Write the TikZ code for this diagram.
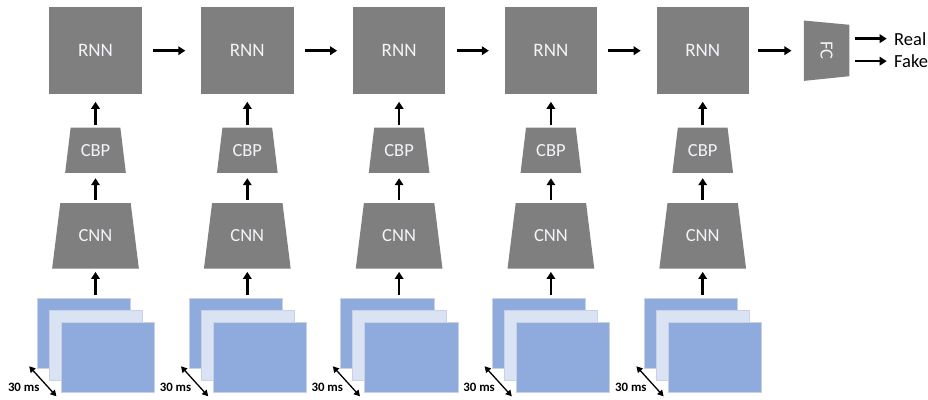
\documentclass[tikz,border=0pt]{standalone}
\usepackage{fontspec}
\setmainfont{Carlito}
\usetikzlibrary{arrows.meta,calc,backgrounds}
\definecolor{blockgrey}{HTML}{7F7F7F}
\definecolor{blocktext}{HTML}{F2F4F8}
\definecolor{framedark}{HTML}{8FAADC}
\definecolor{framelight}{HTML}{DAE3F3}
\definecolor{frameedge}{HTML}{C8D2E2}
\tikzset{
  arr/.style={line width=2.6pt,-{Triangle[length=7pt,width=8.5pt]}},
  tick/.style={line width=1.3pt,{Triangle[length=6pt,width=6.5pt]}-{Triangle[length=6pt,width=6.5pt]}},
  rnnbox/.style={rectangle,fill=blockgrey,draw=none,minimum width=92.4pt,minimum height=87pt,
    inner sep=0pt,text=blocktext,font=\fontsize{19}{22}\selectfont},
  trapbox/.style={rectangle,draw=none,inner sep=0pt,text=blocktext,font=\fontsize{18.5}{22}\selectfont},
  framebox/.style={rectangle,draw=frameedge,line width=0.8pt,minimum width=93.3pt,minimum height=70.3pt,
    inner sep=0pt,anchor=north west},
  msnote/.style={font=\bfseries\fontsize{12.8}{15}\selectfont,inner sep=0pt},
  outlabel/.style={font=\fontsize{18.5}{22}\selectfont,inner sep=0pt,anchor=base west}
}
\begin{document}
\begin{tikzpicture}[x=1pt,y=-1pt]
\useasboundingbox (0,0) rectangle (928,399);

\foreach \i in {0,...,4} {
  \pgfmathsetmacro\cx{95.5+151.8*\i}
  % recurrent block, bilinear pooling and convolutional stages
  \node[rnnbox] (rnn\i) at (\cx,50.7) {RNN};
  \node[trapbox,minimum width=60.3pt,minimum height=45pt] (cbp\i) at (\cx,150.2) {CBP};
  \node[trapbox,minimum width=86.3pt,minimum height=65pt] (cnn\i) at (\cx,235.8) {CNN};
  \begin{scope}[on background layer]
    \fill[blockgrey] ($(cbp\i.north west)+(5.5,0)$) -- ($(cbp\i.north east)+(-5.5,0)$)
      -- (cbp\i.south east) -- (cbp\i.south west) -- cycle;
    \fill[blockgrey] ($(cnn\i.north west)+(8.15,0)$) -- ($(cnn\i.north east)+(-8.15,0)$)
      -- (cnn\i.south east) -- (cnn\i.south west) -- cycle;
  \end{scope}
  % stack of input frames
  \node[framebox,fill=framedark] (fa\i) at (\cx-58.8,297.7) {};
  \node[framebox,fill=framelight] (fb\i) at (\cx-46.8,309.7) {};
  \node[framebox,fill=framedark] (fc\i) at (\cx-34.8,321.7) {};
  % 30 ms spacing marker
  \coordinate (ts\i) at ($(fa\i.south west)+(-7.5,-2.5)$);
  \coordinate (te\i) at ($(fc\i.south west)+(-4.3,3.5)$);
  \draw[tick] (ts\i) -- (te\i);
  \node[msnote] (ms\i) at ($(fa\i.south west)+(-13,18.7)$) {30 ms};
  % upward flow
  \draw[arr,shorten <=2.7pt,shorten >=3.4pt] (cnn\i.south |- fa\i.north) -- (cnn\i.south);
  \draw[arr,shorten <=3.3pt,shorten >=5.3pt] (cnn\i.north) -- (cbp\i.south);
  \draw[arr,shorten <=2.7pt,shorten >=7.4pt] (cbp\i.north) -- (rnn\i.south);
}

% recurrent chain
\foreach \i [evaluate=\i as \j using int(\i+1)] in {0,...,3} {
  \draw[arr,shorten <=11pt,shorten >=15.6pt] (rnn\i.east) -- (rnn\j.west);
}

% fully connected classifier
\node[trapbox,minimum width=45.3pt,minimum height=60pt] (fc) at (826.6,50.7) {\rotatebox{-90}{FC}};
\begin{scope}[on background layer]
  \fill[blockgrey] (fc.north west) -- ($(fc.north east)+(0,4.3)$)
    -- ($(fc.south east)+(0,-4.7)$) -- (fc.south west) -- cycle;
\end{scope}
\draw[arr,shorten <=8.7pt,shorten >=12.3pt] (rnn4.east) -- (fc.west);

\node[outlabel] (real) at (894,45) {Real};
\node[outlabel] (fake) at (894,67.5) {Fake};
\draw[arr,shorten <=5.7pt,shorten >=7.3pt] (fc.east |- real.west) -- (real.west);
\draw[arr,shorten <=5.7pt,shorten >=7.3pt] (fc.east |- fake.west) -- (fake.west);
\end{tikzpicture}
\end{document}
